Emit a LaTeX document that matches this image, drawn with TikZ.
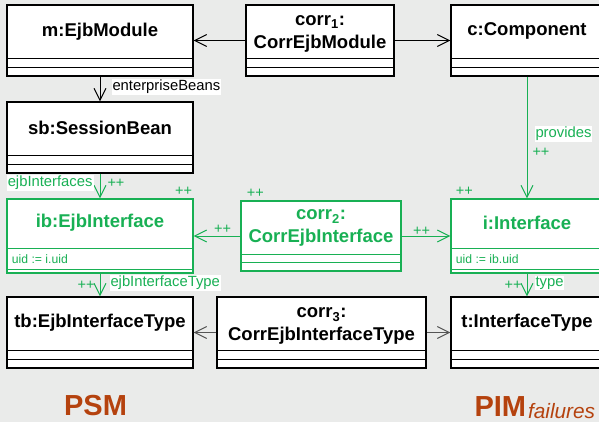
\documentclass[tikz,border=0pt]{standalone}
\usepackage{fontspec}
\setmainfont{Liberation Sans}
\usetikzlibrary{arrows.meta}
\definecolor{bgc}{RGB}{234,235,234}
\definecolor{umlgreen}{RGB}{24,176,84}
\definecolor{corrgray}{RGB}{85,85,85}
\definecolor{psmbrown}{RGB}{181,66,14}

\begin{document}
\begin{tikzpicture}[x=1pt,y=-1pt,line width=1pt]

\tikzstyle{obj}=[draw,fill=white,line width=1.2pt,inner sep=0pt,minimum height=71pt]
\tikzstyle{gobj}=[obj,draw=umlgreen]
\tikzstyle{nm}=[font=\bfseries\fontsize{18.5}{23}\selectfont,align=center,inner sep=0pt]
\tikzstyle{attr}=[font=\fontsize{12.2}{14}\selectfont,text=umlgreen,anchor=west,inner sep=0pt]
\tikzstyle{role}=[font=\fontsize{14.8}{16}\selectfont,fill=white,inner sep=1pt]
\tikzstyle{mult}=[font=\fontsize{14.5}{16}\selectfont,text=umlgreen,inner sep=0pt]
\tikzstyle{link}=[-{Straight Barb[length=12pt,width=12pt]},line width=1pt]
\tikzstyle{model}=[font=\bfseries\fontsize{29}{30}\selectfont,text=psmbrown,inner sep=0pt]

\fill[bgc] (0,0) rectangle (599,422);
\useasboundingbox (0,0) rectangle (599,422);
\clip (0,0) rectangle (599,422);

\node[obj,minimum width=186pt] (m) at (100,40.5) {};
\node[obj,minimum width=148pt] (corr1) at (320,40.5) {};
\node[obj,minimum width=152pt] (c) at (527,40.5) {};
\node[obj,minimum width=186pt] (sb) at (100,137.5) {};
\node[gobj,minimum width=186pt,minimum height=74pt] (ib) at (100,236) {};
\node[gobj,minimum width=160pt,minimum height=70pt] (corr2) at (321,236) {};
\node[gobj,minimum width=152pt,minimum height=74pt] (i) at (527,236) {};
\node[obj,minimum width=186pt] (tb) at (100,332.5) {};
\node[obj,minimum width=209pt] (corr3) at (321.5,332.5) {};
\node[obj,minimum width=152pt] (t) at (527,332.5) {};

\foreach \b in {m,corr1,c,sb,tb,corr3,t}
  \draw[line width=1.2pt] ([yshift=9pt]\b.south west) -- ([yshift=9pt]\b.south east)
    ([yshift=18pt]\b.south west) -- ([yshift=18pt]\b.south east);
\foreach \b in {ib,i}
  \draw[umlgreen,line width=1.2pt] ([yshift=4pt]\b.south west) -- ([yshift=4pt]\b.south east)
    ([yshift=25pt]\b.south west) -- ([yshift=25pt]\b.south east);
\draw[umlgreen,line width=1.2pt] ([yshift=9pt]corr2.south west) -- ([yshift=9pt]corr2.south east)
  ([yshift=17pt]corr2.south west) -- ([yshift=17pt]corr2.south east);

\node[nm] at ([yshift=-27.5pt]m.north) {m:EjbModule};
\node[nm] at ([yshift=-29.5pt]corr1.north) {corr\textsubscript{1}:\\CorrEjbModule};
\node[nm] at ([yshift=-27pt]c.north) {c:Component};
\node[nm] at ([yshift=-26pt]sb.north) {sb:SessionBean};
\node[nm,text=umlgreen] at ([yshift=-24pt]ib.north) {ib:EjbInterface};
\node[nm,text=umlgreen] at ([yshift=-28pt]corr2.north) {corr\textsubscript{2}:\\CorrEjbInterface};
\node[nm,text=umlgreen] at ([yshift=-24pt]i.north) {i:Interface};
\node[nm] at ([yshift=-26.5pt]tb.north) {tb:EjbInterfaceType};
\node[nm] at ([yshift=-30pt]corr3.north) {corr\textsubscript{3}:\\CorrEjbInterfaceType};
\node[nm] at ([yshift=-26.5pt]t.north) {t:InterfaceType};

\node[attr] at ([xshift=5pt,yshift=14pt]ib.south west) {uid := i.uid};
\node[attr] at ([xshift=5pt,yshift=14pt]i.south west) {uid := ib.uid};

\draw[link] (corr1) -- (m);
\draw[link] (corr1) -- (c);
\draw[link] (m) -- (sb) node[role,midway,anchor=west,xshift=11pt,yshift=2pt] {enterpriseBeans};
\draw[link,umlgreen] (sb) -- (ib)
  node[role,midway,anchor=east,xshift=-6pt,yshift=3pt] {ejbInterfaces}
  node[mult,midway,anchor=west,xshift=7pt,yshift=3pt] {++};
\draw[link,umlgreen] (c) -- (i)
  node[role,pos=0.47,anchor=west,xshift=7pt] {provides}
  node[mult,pos=0.62,anchor=west,xshift=5pt] {++};
\draw[link,umlgreen] (corr2) -- (ib) node[mult,midway,above=2pt,xshift=5.5pt] {++};
\draw[link,umlgreen] (corr2) -- (i) node[mult,midway,above=0.5pt,xshift=-4.5pt] {++};
\draw[link,umlgreen] (ib) -- (tb)
  node[mult,midway,anchor=east,xshift=-5pt] {++}
  node[role,midway,anchor=west,xshift=9pt,yshift=2pt] {ejbInterfaceType};
\draw[link,umlgreen] (i) -- (t)
  node[mult,midway,anchor=east,xshift=-5pt] {++}
  node[role,midway,anchor=west,xshift=7pt,yshift=2pt] {type};
\draw[link,corrgray] (corr3) -- (tb);
\draw[link,corrgray] (corr3) -- (t);

\node[mult,anchor=south east] at ([xshift=-1pt,yshift=2pt]ib.north east) {++};
\node[mult,anchor=south west] at ([xshift=6pt,yshift=2pt]corr2.north west) {++};
\node[mult,anchor=south west] at ([xshift=5pt,yshift=2pt]i.north west) {++};

\node[model] (psm) at (95.5,406) {PSM};
\node[model,anchor=base west] (pim) at (474,416) {PIM};
\node[font=\itshape\fontsize{20.8}{22}\selectfont,text=psmbrown,anchor=base west,inner sep=0pt]
  (fail) at ([xshift=1pt,yshift=-2pt]pim.base east) {failures};
\end{tikzpicture}
\end{document}
